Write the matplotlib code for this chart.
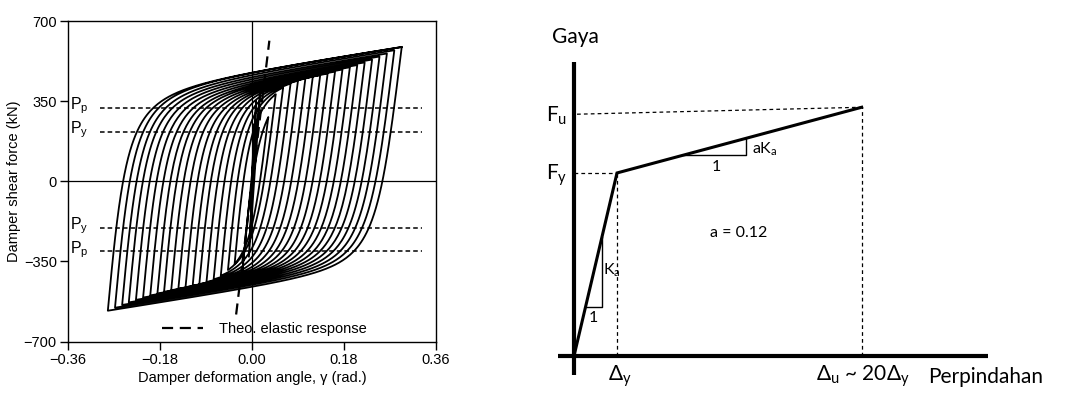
import numpy as np
import matplotlib
matplotlib.use("Agg")
import matplotlib.pyplot as plt

# ---- left panel data: cycle tips (rad, kN) ----
pos_tip_x = [0.004, 0.008, 0.0175, 0.032, 0.0465, 0.061, 0.0755, 0.090, 0.1045, 0.119,
             0.1335, 0.148, 0.1625, 0.177, 0.1915, 0.206, 0.2205, 0.235, 0.2495,
             0.264, 0.2785, 0.293]
pos_tip_y = [250, 350, 425, 445, 450, 455, 459, 463, 467, 471, 475, 480, 487, 495,
             504, 513, 524, 536, 549, 562, 576, 590]
neg_tip_x = [-0.003, -0.006, -0.020, -0.034, -0.047, -0.061, -0.075, -0.089, -0.103,
             -0.116, -0.130, -0.144, -0.158, -0.172, -0.185, -0.199, -0.213, -0.227,
             -0.241, -0.254, -0.268, -0.282]
neg_tip_y = [-230, -330, -420, -433, -440, -445, -450, -455, -460, -464, -469, -474,
             -480, -486, -493, -501, -510, -520, -531, -542, -554, -567]

# reference lines P_p / P_y (kN)
p_levels = [322, 216, -203, -305]
p_labels = ["p", "y", "y", "p"]

# theoretical elastic response end points
theo_x = [-0.031, 0.034]
theo_y = [-582, 614]

x_ticks = [-0.36, -0.18, 0.0, 0.18, 0.36]
x_ticklabels = ["\u22120.36", "\u22120.18", "0.00", "0.18", "0.36"]
y_ticks = [-700, -350, 0, 350, 700]

# branch shape parameters (Menegotto-Pinto), loading up / unloading down
E0_UP, R_UP = 24000.0, 1.87
E0_DOWN, R_DOWN = 18000.0, 2.35
EH = 350.0

# ---- right panel data (displacement in Dy, force in Fy) ----
dy = 1.0
du = 6.69
fy = 1.0
fu = 1.359
bilinear_x = [0.0, dy, du]
bilinear_y = [0.0, fy, fu]


def branch(xr, yr, xt, yt, E0, R, n=160):
    """one loading branch from reversal point to target tip"""
    x0 = (yt - yr + E0 * xr - EH * xt) / (E0 - EH)
    y0 = yr + E0 * (x0 - xr)
    if (x0 - xr) / (xt - xr) >= 1.0:
        # target still in the elastic range -> straight segment
        return np.array([xr, xt]), np.array([yr, yt])
    b = EH / E0
    x = np.linspace(xr, xt, n)
    xs = (x - xr) / (x0 - xr)
    ys = b * xs + (1 - b) * xs / (1 + np.abs(xs) ** R) ** (1.0 / R)
    return x, yr + ys * (y0 - yr)


left_font = ["Liberation Sans Narrow", "Liberation Sans", "DejaVu Sans"]
right_font = ["Lato", "DejaVu Sans"]
plt.rcParams["mathtext.default"] = "regular"

fig = plt.figure(figsize=(10.67, 3.94), dpi=100)

# ================= left panel =================
ax = fig.add_axes([0.0637, 0.1332, 0.3449, 0.8135])

xs_all, ys_all = [0.0], [0.0]
xc, yc = 0.0, 0.0
for i in range(len(pos_tip_x)):
    bx, by = branch(xc, yc, pos_tip_x[i], pos_tip_y[i], E0_UP, R_UP)
    xs_all.extend(bx[1:]); ys_all.extend(by[1:])
    xc, yc = bx[-1], by[-1]
    bx, by = branch(xc, yc, neg_tip_x[i], neg_tip_y[i], E0_DOWN, R_DOWN)
    xs_all.extend(bx[1:]); ys_all.extend(by[1:])
    xc, yc = bx[-1], by[-1]
# last cycle closes back onto the biggest positive tip
bx, by = branch(xc, yc, pos_tip_x[-1], pos_tip_y[-1], E0_UP, R_UP)
xs_all.extend(bx[1:]); ys_all.extend(by[1:])

ax.plot(xs_all, ys_all, color="black", lw=1.3, solid_joinstyle="round")

ax.axhline(0, color="black", lw=0.9)
ax.axvline(0, color="black", lw=0.9)

for lev, lab in zip(p_levels, p_labels):
    ax.plot([-0.298, 0.333], [lev, lev], color="black", lw=1.1, dashes=(3, 2))
    ax.text(-0.356, lev + 8, "$P_{%s}$" % lab, fontsize=11.5, family=left_font,
            ha="left", va="center")

theo, = ax.plot(theo_x, theo_y, color="black", lw=1.6, dashes=(5, 3),
                label="Theo. elastic response")
ax.legend(handles=[theo], loc="lower left", bbox_to_anchor=(0.22, -0.025),
          frameon=False, handlelength=2.8, handletextpad=1.1,
          prop={"family": left_font, "size": 10.5})

ax.set_xlim(-0.36, 0.36)
ax.set_ylim(-700, 700)
ax.set_xticks(x_ticks)
ax.set_xticklabels(x_ticklabels)
ax.set_yticks(y_ticks)
ax.set_yticklabels(["\u2212700", "\u2212350", "0", "350", "700"])
ax.tick_params(direction="out", length=6, width=1, labelsize=10.5, pad=2)
for lbl in ax.get_xticklabels() + ax.get_yticklabels():
    lbl.set_family(left_font)
for sp in ax.spines.values():
    sp.set_linewidth(1.0)
ax.set_xlabel("Damper deformation angle, \u03b3 (rad.)", family=left_font,
              fontsize=10.5, labelpad=3)
ax.set_ylabel("Damper shear force (kN)", family=left_font, fontsize=10.5,
              labelpad=2)

# ================= right panel =================
bx_ = fig.add_axes([0.5108, 0.0, 0.4892, 1.0])
bx_.set_xlim(-0.674, 11.465)
bx_.set_ylim(-0.2077, 1.945)
bx_.axis("off")

# thick axis lines
bx_.plot([0, 0], [-0.104, 1.608], color="black", lw=3.0, solid_capstyle="butt")
bx_.plot([-0.372, 9.63], [0, 0], color="black", lw=3.0, solid_capstyle="butt")

# dashed guides
dash = dict(color="black", lw=0.9, dashes=(3, 2.5))
bx_.plot([0, dy], [fy, fy], **dash)
bx_.plot([dy, dy], [0, fy], **dash)
bx_.plot([0.07, du], [1.321, fu], **dash)
bx_.plot([du, du], [0, fu], **dash)

# bilinear curve
bx_.plot(bilinear_x, bilinear_y, color="black", lw=2.2, solid_joinstyle="miter")

# slope triangles
k_hard = (fu - fy) / (du - dy)
bx_.plot([0.27, 0.65, 0.65], [0.27, 0.27, 0.65], color="black", lw=1.0)
t0, t1 = 2.54, 4.0
bx_.plot([t0, t1, t1], [fy + k_hard * (t0 - dy), fy + k_hard * (t0 - dy),
                        fy + k_hard * (t1 - dy)], color="black", lw=1.0)

big = dict(family=right_font, fontsize=15, ha="center", va="center")
small = dict(family=right_font, fontsize=11.5, ha="center", va="center")
bx_.text(-0.52, 1.743, "Gaya", family=right_font, fontsize=15, ha="left", va="center")
bx_.text(-0.40, 1.31, "$F_u$", **big)
bx_.text(-0.40, 0.99, "$F_y$", **big)
bx_.text(1.06, -0.11, "$\\Delta_y$", **big)
bx_.text(6.71, -0.11, "$\\Delta_u$ ~ 20$\\Delta_y$", **big)
bx_.text(9.57, -0.115, "Perpindahan", **big)
bx_.text(0.88, 0.47, "$K_a$", **small)
bx_.text(0.44, 0.21, "1", **small)
bx_.text(4.15, 1.13, "$aK_a$", family=right_font, fontsize=11.5, ha="left", va="center")
bx_.text(3.30, 1.03, "1", **small)
bx_.text(3.83, 0.67, "a = 0.12", **small)

fig.savefig("out.png", dpi=100)
